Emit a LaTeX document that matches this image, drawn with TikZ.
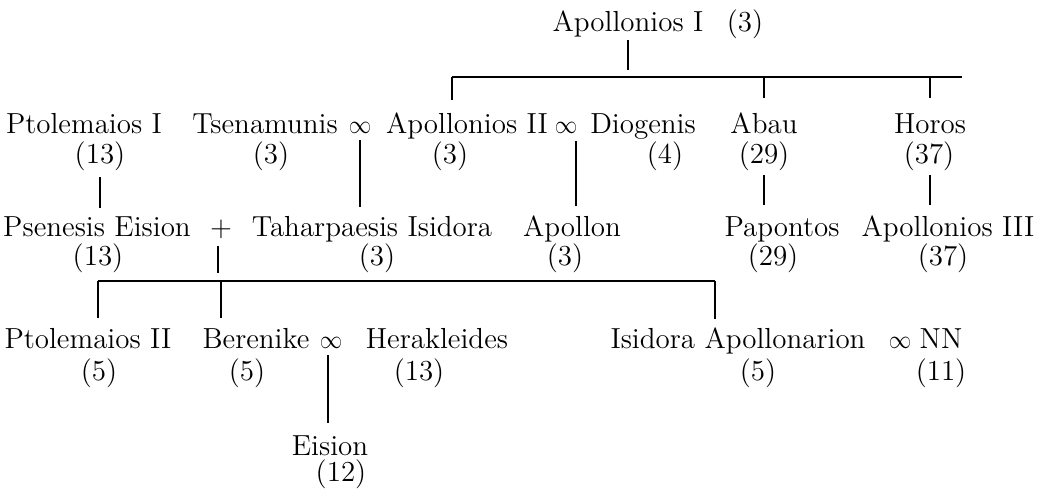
\documentclass[tikz,border=0pt]{standalone}
\usepackage{graphicx}
\usetikzlibrary{calc}
\newcommand{\marr}{\scalebox{0.78}[0.9]{$\infty$}}
\begin{document}
\begin{tikzpicture}[x=0.5pt,y=-0.5pt,
  nm/.style={anchor=base,inner sep=0pt,font=\fontsize{14.5}{17}\selectfont},
  ln/.style={line width=1pt}]
\useasboundingbox (0,0) rectangle (1047,489);
% row 1
\node[nm] (a1) at (628,31) {Apollonios I};
\node[nm] (a1n) at (745,31) {(3)};
% row 2
\node[nm] (pt1) at (84,133) {Ptolemaios I};
\node[nm] (tse) at (265,133) {Tsenamunis};
\node[nm] (m1) at (360,133) {\marr};
\node[nm] (ap2) at (467,133) {Apollonios II};
\node[nm] (m2) at (566,133) {\marr};
\node[nm] (dio) at (643,133) {Diogenis};
\node[nm] (abau) at (764,133) {Abau};
\node[nm] (hor) at (930,133) {Horos};
\node[nm] (pt1n) at (100,163) {(13)};
\node[nm] (tsen) at (271,163) {(3)};
\node[nm] (ap2n) at (450,163) {(3)};
\node[nm] (dion) at (665,163) {(4)};
\node[nm] (abaun) at (764,163) {(29)};
\node[nm] (horn) at (929,163) {(37)};
% row 3
\node[nm] (pse) at (97,236) {Psenesis Eision};
\node[nm] (plus) at (221,236) {$+$};
\node[nm] (tah) at (372,236) {Taharpaesis Isidora};
\node[nm] (apn) at (572,236) {Apollon};
\node[nm] (pap) at (782,236) {Papontos};
\node[nm] (ap3) at (948,236) {Apollonios III};
\node[nm] (psen) at (98,265) {(13)};
\node[nm] (tahn) at (377,265) {(3)};
\node[nm] (apnn) at (565,265) {(3)};
\node[nm] (papn) at (773,265) {(29)};
\node[nm] (ap3n) at (943,265) {(37)};
% row 4
\node[nm] (pt2) at (88,348) {Ptolemaios II};
\node[nm] (ber) at (256,348) {Berenike};
\node[nm] (m3) at (331,348) {\marr};
\node[nm] (her) at (437,348) {Herakleides};
\node[nm] (isi) at (738,348) {Isidora Apollonarion};
\node[nm] (m4) at (900,348) {\marr};
\node[nm] (nn) at (941,348) {NN};
\node[nm] (pt2n) at (99,380) {(5)};
\node[nm] (bern) at (247,380) {(5)};
\node[nm] (hern) at (419,380) {(13)};
\node[nm] (isin) at (758,380) {(5)};
\node[nm] (nnn) at (941,380) {(11)};
% row 5
\node[nm] (eis) at (330,455) {Eision};
\node[nm] (eisn) at (341,481) {(12)};
% connectors
\draw[ln] (a1.base) ++(0,9) -- ++(0,30);
\coordinate (hL) at (452,77);
\coordinate (hR) at (962,77);
\draw[ln] (hL) -- (hR);
\draw[ln] (hL) -- ++(0,23);
\draw[ln] (abau |- hL) -- ++(0,21);
\draw[ln] (hor |- hL) -- ++(0,21);
\draw[ln] (pt1n.base) ++(0,14) -- ++(0,31);
\draw[ln] (m1.base) ++(0,7) -- ++(0,67);
\draw[ln] (apn.base) ++(4,-30) -- ++(0,-65);
\draw[ln] (abaun.base) ++(0,12) -- ++(0,30);
\draw[ln] (horn.base) ++(1,12) -- ++(0,30);
\draw[ln] (plus.base) ++(-3,10) -- ++(0,27);
\coordinate (hL2) at (98,281);
\coordinate (hR2) at (715,281);
\draw[ln] (hL2) -- (hR2);
\draw[ln] (hL2) -- ++(0,37);
\draw[ln] (plus |- hL2) -- ++(0,37);
\draw[ln] (hR2) -- ++(0,38);
\draw[ln] (m3.base) ++(-3,7) -- ++(0,68);
\end{tikzpicture}
\end{document}
